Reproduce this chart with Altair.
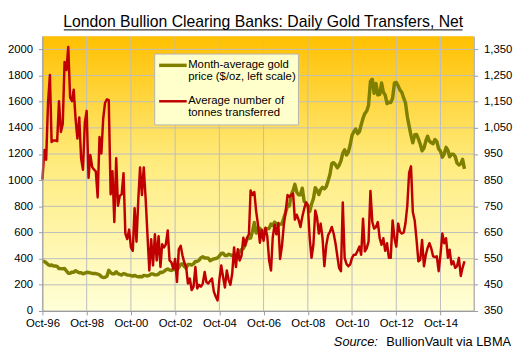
import altair as alt
import pandas as pd

# ---------------- data ----------------
# Month-average gold price, $/oz (Oct-1996 ... Nov-2015), left scale
gold_price = [
    381, 378, 369,
    355, 347, 352, 344, 344, 341, 324, 324, 323, 325, 306, 289,
    289, 297, 296, 308, 299, 292, 293, 284, 289, 296, 294, 291,
    287, 287, 286, 282, 277, 262, 256, 257, 265, 311, 293, 284,
    285, 300, 286, 280, 275, 286, 282, 275, 274, 270, 266, 272,
    265, 262, 263, 261, 272, 270, 268, 273, 283, 283, 276, 276,
    282, 296, 294, 303, 314, 321, 313, 310, 319, 317, 319, 333,
    357, 359, 340, 328, 355, 356, 351, 360, 379, 379, 389, 407,
    414, 405, 406, 404, 384, 392, 398, 401, 406, 420, 439, 442,
    424, 423, 434, 429, 422, 430, 424, 438, 456, 470, 476, 510,
    549, 555, 557, 610, 676, 596, 633, 632, 598, 585, 627, 629,
    631, 665, 655, 679, 667, 655, 665, 665, 712, 754, 806, 803,
    889, 922, 968, 909, 888, 889, 939, 839, 829, 806, 760, 816,
    858, 943, 924, 890, 928, 946, 934, 949, 996, 1043, 1127, 1134,
    1118, 1095, 1113, 1148, 1205, 1232, 1193, 1215, 1271, 1343, 1370, 1391,
    1356, 1372, 1424, 1474, 1510, 1529, 1573, 1756, 1772, 1665, 1739, 1652,
    1656, 1743, 1674, 1650, 1585, 1596, 1594, 1626, 1744, 1747, 1721, 1688,
    1671, 1627, 1593, 1487, 1414, 1343, 1286, 1347, 1349, 1316, 1275, 1225,
    1244, 1301, 1336, 1299, 1287, 1279, 1311, 1296, 1239, 1222, 1176, 1200,
    1251, 1227, 1179, 1198, 1199, 1181, 1131, 1117, 1125, 1159, 1086,
]

# Average number of tonnes transferred daily (right scale)
tonnes = [
    852, 965, 928, 1146, 1252, 996, 1002, 1002, 999, 1152,
    1034, 1065, 1302, 1271, 1359, 1165, 1152, 1196, 1084, 1009,
    1090, 934, 890, 1071, 1115, 859, 946, 900, 890, 884,
    784, 1015, 952, 1084, 1146, 1159, 1156, 796, 884, 690,
    934, 752, 790, 796, 877, 646, 625, 661, 593, 580,
    743, 615, 780, 899, 793, 899, 780, 643, 505, 624,
    524, 643, 543, 636, 518, 605, 593, 605, 658, 543,
    536, 511, 549, 461, 586, 599, 561, 536, 518, 455,
    474, 430, 442, 518, 436, 450, 443, 455, 499, 461,
    455, 465, 474, 425, 405, 390, 470, 524, 480, 440,
    505, 470, 450, 493, 593, 518, 586, 543, 561, 630,
    599, 630, 643, 811, 793, 805, 730, 680, 611, 661,
    618, 668, 636, 543, 505, 630, 680, 643, 686, 549,
    599, 680, 730, 793, 786, 793, 799, 699, 718, 699,
    671, 709, 740, 765, 753, 628, 553, 603, 734, 709,
    646, 684, 628, 521, 600, 640, 653, 671, 646, 609,
    559, 515, 502, 765, 553, 530, 521, 528, 553, 565,
    565, 580, 596, 565, 703, 578, 590, 615, 809, 690,
    665, 671, 690, 628, 603, 628, 580, 609, 553, 553,
    696, 628, 596, 684, 653, 646, 650, 684, 753, 878,
    903, 728, 696, 621, 540, 546, 621, 521, 565, 590,
    609, 590, 559, 556, 559, 502, 565, 646, 609, 628,
    553, 584, 528, 540, 515, 521, 553, 484, 515, 540,
]

months = pd.date_range("1996-10-01", periods=len(gold_price), freq="MS").strftime("%Y-%m-%d").tolist()

left_ticks = [0, 200, 400, 600, 800, 1000, 1200, 1400, 1600, 1800, 2000]
right_ticks = [350, 450, 550, 650, 750, 850, 950, 1050, 1150, 1250, 1350]
x_tick_years = [1996, 1998, 2000, 2002, 2004, 2006, 2008, 2010, 2012, 2014]

title_text = "London Bullion Clearing Banks: Daily Gold Transfers, Net"
legend_gold = ["Month-average gold", "price ($/oz, left scale)"]
legend_red = ["Average number of", "tonnes transferred"]
source_italic = "Source:"
source_rest = "BullionVault via LBMA"

# ---------------- styling ----------------
W, H = 438, 279
FONT = "Liberation Sans"
GRID = "#BDBDBD"
AXC = "#9A9A9A"
OLIVE = "#808000"
RED = "#C00000"

df = pd.DataFrame({"date": months, "gold": gold_price, "tonnes": tonnes})
one = pd.DataFrame({"a": [0]})

x_scale = alt.Scale(
    type="utc",
    domain=[alt.DateTime(year=1996, month=10, date=1, utc=True),
            alt.DateTime(year=2016, month=4, date=1, utc=True)],
    nice=False,
)
x_axis = alt.Axis(
    values=[alt.DateTime(year=y, month=10, date=1, utc=True) for y in x_tick_years],
    format="%b-%y", title=None, grid=False, domainColor=AXC, tickColor=AXC,
    tickSize=4, labelFont=FONT, labelFontSize=11.5, labelColor="black",
    labelPadding=3, labelFlush=False, labelOverlap=False, zindex=1,
)
left_scale = alt.Scale(domain=[0, 2100], nice=False, zero=False)
left_axis = alt.Axis(
    values=left_ticks, format="d", title=None, grid=False, orient="left",
    domainColor=AXC, tickColor=AXC, tickSize=4, labelFont=FONT,
    labelFontSize=11.5, labelColor="black", labelPadding=6, zindex=1,
)
right_scale = alt.Scale(domain=[350, 1400], nice=False, zero=False)
right_axis = alt.Axis(
    values=right_ticks, format=",d", title=None, grid=False, orient="right",
    domainColor=AXC, tickColor=AXC, tickSize=4, labelFont=FONT,
    labelFontSize=11.5, labelColor="black", labelPadding=6, zindex=1,
)

bg = alt.Chart(one).mark_rect(
    color=alt.Gradient(
        gradient="linear",
        stops=[alt.GradientStop(color="#FFC000", offset=0),
               alt.GradientStop(color="#FFEB7C", offset=0.45),
               alt.GradientStop(color="#FFFFD8", offset=1)],
        x1=0, x2=0, y1=0, y2=1,
    )
).encode(x=alt.value(0), x2=alt.value(W), y=alt.value(0), y2=alt.value(H))

hgrid = alt.Chart(pd.DataFrame({"v": left_ticks})).mark_rule(color=GRID, strokeWidth=1).encode(
    y=alt.Y("v:Q", scale=left_scale, axis=left_axis)
)
vgrid = alt.Chart(pd.DataFrame({"d": [f"{y}-10-01" for y in x_tick_years]})).mark_rule(
    color=GRID, strokeWidth=1
).encode(x=alt.X("d:T", scale=x_scale, axis=x_axis))

gold = alt.Chart(df).mark_line(color=OLIVE, strokeWidth=3.5, strokeJoin="round").encode(
    x=alt.X("date:T", scale=x_scale, axis=x_axis),
    y=alt.Y("gold:Q", scale=left_scale, axis=left_axis),
)

left_layer = alt.layer(bg, hgrid, vgrid, gold)

red = alt.Chart(df).mark_line(color=RED, strokeWidth=2.5, strokeJoin="round").encode(
    x=alt.X("date:T", scale=x_scale, axis=x_axis),
    y=alt.Y("tonnes:Q", scale=right_scale, axis=right_axis),
)

# legend box, title, source
def txt(s, x, y, align="left", baseline="middle", size=11.5, style="normal"):
    return alt.Chart(one).mark_text(
        text=s, align=align, baseline=baseline, font=FONT, fontSize=size,
        fontStyle=style, color="black"
    ).encode(x=alt.value(x), y=alt.value(y))

leg_box = alt.Chart(one).mark_rect(fill="#FFFFCC", stroke="#B4B4B4", strokeWidth=1).encode(
    x=alt.value(114), x2=alt.value(260), y=alt.value(18), y2=alt.value(90)
)
leg_gold = alt.Chart(one).mark_rule(color=OLIVE, strokeWidth=3.5).encode(
    x=alt.value(118.5), x2=alt.value(146.5), y=alt.value(29.5)
)
leg_red = alt.Chart(one).mark_rule(color=RED, strokeWidth=2.5).encode(
    x=alt.value(118.5), x2=alt.value(146.5), y=alt.value(66)
)
leg_t1 = txt(legend_gold[0], 148, 29.5)
leg_t2 = txt(legend_gold[1], 148, 41.5)
leg_t3 = txt(legend_red[0], 148, 66)
leg_t4 = txt(legend_red[1], 148, 77.7)

title = txt(title_text, 224.2, -9, align="center", baseline="alphabetic", size=16)
underline = alt.Chart(one).mark_rule(color="black", strokeWidth=1).encode(
    x=alt.value(21.7), x2=alt.value(426.7), y=alt.value(-6.5)
)
src1 = txt(source_italic, 296, 315, align="left", baseline="alphabetic", size=13, style="italic")
src2 = txt(source_rest, 476, 315, align="right", baseline="alphabetic", size=13)

deco = alt.layer(leg_box, leg_gold, leg_red, leg_t1, leg_t2, leg_t3, leg_t4,
                 title, underline, src1, src2)

chart = (
    alt.layer(left_layer, red, deco)
    .resolve_scale(y="independent")
    .properties(
        width=W, height=H,
        autosize=alt.AutoSizeParams(type="none"),
        padding={"left": 35, "top": 26, "right": 43, "bottom": 44},
    )
    .configure_view(stroke=None)
    .configure(background="white")
)

chart.save("out.html", embed_options={"renderer": "svg", "actions": False})
